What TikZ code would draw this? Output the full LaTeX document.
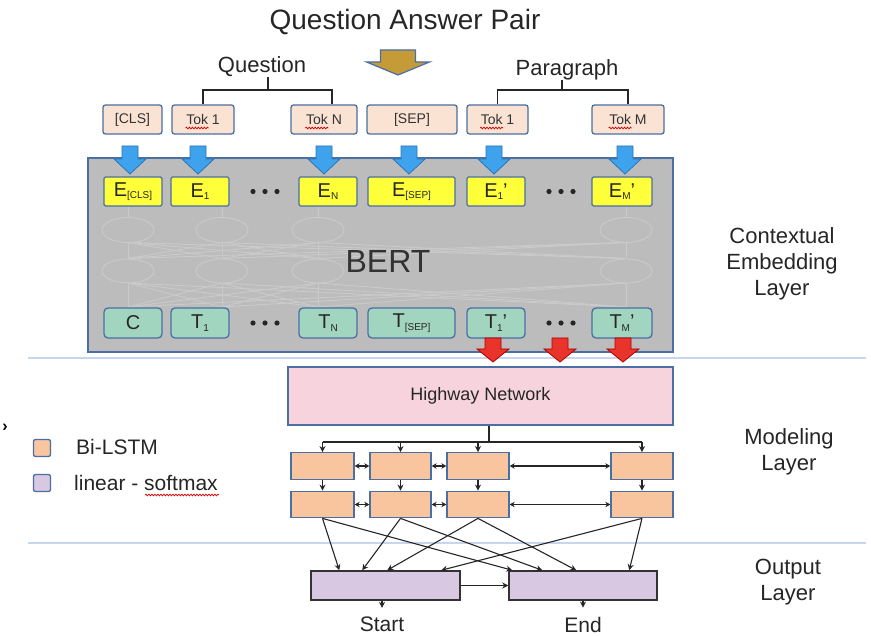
\documentclass[tikz,border=0pt]{standalone}
\usepackage{fontspec}
\setmainfont{Liberation Sans}
\usetikzlibrary{arrows.meta,decorations.pathmorphing,calc}

\definecolor{bordblue}{HTML}{4A6FA5}
\definecolor{tokfill}{HTML}{FBE3D4}
\definecolor{eyellow}{HTML}{FFFF3A}
\definecolor{tgreen}{HTML}{A2D5BF}
\definecolor{bertgray}{HTML}{BCBCBC}
\definecolor{faintline}{HTML}{CACACA}
\definecolor{hwpink}{HTML}{F7D3DD}
\definecolor{lstmfill}{HTML}{F8C59F}
\definecolor{outlav}{HTML}{D8C8E2}
\definecolor{goldfill}{HTML}{C49B36}
\definecolor{bluearr}{HTML}{3EA2EC}
\definecolor{bluearrdk}{HTML}{2E75B6}
\definecolor{redarr}{HTML}{E8342B}
\definecolor{sepblue}{HTML}{C7D6EF}
\definecolor{textgray}{HTML}{333333}

\newcommand\fs[1]{\fontsize{#1}{#1}\selectfont}
\newcommand\lowsub[1]{\raisebox{-2.5pt}{\fontsize{10}{10}\selectfont #1}}

\tikzset{
  pics/blockdown/.style n args={4}{code={
    \path[pic actions] (-#3,0) -- (#3,0) -- (#3,#1) -- (#4,#1) -- (0,#2)
      -- (-#4,#1) -- (-#3,#1) -- cycle;}},
  tokbox/.style={draw=bordblue, fill=tokfill, line width=1.3pt, rounded corners=2.5pt,
    minimum height=29pt, inner sep=0pt, text=textgray, font=\fs{14}},
  ebox/.style={draw=bordblue, fill=eyellow, line width=1.3pt, rounded corners=1.5pt,
    minimum height=29pt, inner sep=0pt, text=black!85, font=\fs{20}},
  tbox/.style={draw=bordblue, fill=tgreen, line width=1.3pt, rounded corners=4pt,
    minimum height=30pt, inner sep=0pt, text=black!85, font=\fs{20}},
  lstm/.style={draw=bordblue, fill=lstmfill, line width=1.3pt, minimum width=62pt,
    minimum height=26.5pt, inner sep=0pt},
  outbox/.style={draw=black!80, fill=outlav, line width=1.5pt, minimum height=29pt,
    inner sep=0pt},
  legsq/.style={draw=bordblue, line width=1.3pt, rounded corners=2pt,
    minimum width=17pt, minimum height=17pt, inner sep=0pt},
  conn/.style={line width=1.1pt, draw=black!85},
  arr/.style={conn, -{Stealth[length=6pt,width=6pt]}},
  darr/.style={conn, {Stealth[length=5pt,width=5.5pt]}-{Stealth[length=5pt,width=5.5pt]}},
  lbl/.style={font=\fs{22}, align=center, text=black!85, inner sep=0pt},
  sepline/.style={draw=sepblue, line width=1.5pt},
  squig/.style={draw=red!85!black, line width=0.7pt, decorate,
    decoration={snake, amplitude=0.9pt, segment length=3pt}},
  faint/.style={draw=faintline, line width=0.9pt},
}

\begin{document}
\begin{tikzpicture}[x=1pt,y=-1pt]
\useasboundingbox (0,0) rectangle (871,636);
\fill[white] (0,0) rectangle (871,636);

% ---------- input ----------
\node[font=\fs{28}, text=black!85, inner sep=0pt] (title) at (405,22) {Question Answer Pair};
\pic[fill=goldfill, draw=bordblue, line width=1.2pt] at (398,50) {blockdown={12}{25}{17.5}{31.5}};

\node[lbl] (qlbl) at (262,67) {Question};
\node[lbl] (plbl) at (567,70) {Paragraph};

\node[tokbox, minimum width=59pt] (tcls) at (132.5,119.5) {[CLS]};
\node[tokbox, minimum width=62pt] (tq1)  at (203,119.5)   {Tok 1};
\node[tokbox, minimum width=66pt] (tqn)  at (324,119.5)   {Tok N};
\node[tokbox, minimum width=90pt] (tsep) at (412,119.5)   {[SEP]};
\node[tokbox, minimum width=61pt] (tp1)  at (497.5,119.5) {Tok 1};
\node[tokbox, minimum width=72pt] (tpm)  at (628,119.5)   {Tok M};

% spell-check marks under "Tok"
\draw[squig] ($(tq1.center)+(-17.5,8.5)$) -- ++(23,0);
\draw[squig] ($(tqn.center)+(-18.7,8.5)$) -- ++(23,0);
\draw[squig] ($(tp1.center)+(-17.5,8.5)$) -- ++(23,0);
\draw[squig] ($(tpm.center)+(-19.4,8.5)$) -- ++(23,0);

% brackets grouping the tokens
\coordinate (qbar) at (268,90);
\coordinate (pbar) at (562,90);
\draw[conn, line width=1.3pt] (qbar |- qlbl.south) -- (qbar);
\draw[conn, line width=1.3pt] (tq1.north) |- (qbar) -| ([xshift=8pt]tqn.north);
\draw[conn, line width=1.3pt] (pbar |- plbl.south) -- (pbar);
\draw[conn, line width=1.3pt] (tp1.north) |- (pbar) -| (tpm.north);

% ---------- layer separators ----------
\draw[sepline] (28,358) -- (866,358);
\draw[sepline] (28,543) -- (866,543);

% ---------- BERT ----------
\node[draw=bordblue, fill=bertgray, line width=1.8pt, minimum width=585pt,
      minimum height=194pt, inner sep=0pt] (bert) at (380.5,255) {};

% faint transformer cells inside the encoder
\foreach \xa in {128,222,318,626}{
  \draw[faint] (\xa,206) -- (\xa,217.5);
  \foreach \xb in {128,222,318,626}{
    \draw[faint] (\xa,242.5) -- (\xb,258.5);
    \draw[faint] (\xa,283) -- (\xb,307);
  }
}
\foreach \xa in {128,222,318,626}{
  \draw[faint, fill=bertgray] (\xa,230) ellipse [x radius=26, y radius=12.5];
  \draw[faint, fill=bertgray] (\xa,271) ellipse [x radius=26, y radius=12];
}

\node[font=\fs{32}, text=black!80, inner sep=0pt] (bertlbl) at (388,261) {BERT};

\node[ebox, minimum width=58pt] (ecls) at (133,191.5)   {E\lowsub{[CLS]}};
\node[ebox, minimum width=58pt] (e1)   at (200,191.5)   {E\lowsub{1}};
\node[ebox, minimum width=58pt] (en)   at (328,191.5)   {E\lowsub{N}};
\node[ebox, minimum width=87pt] (esep) at (411.5,191.5) {E\lowsub{[SEP]}};
\node[ebox, minimum width=58pt] (ep1)  at (496,191.5)   {E\lowsub{1}'};
\node[ebox, minimum width=60pt] (epm)  at (622,191.5)   {E\lowsub{M}'};

\node[tbox, minimum width=58pt] (tc)    at (133,323)   {C};
\node[tbox, minimum width=58pt] (t1)    at (200,323)   {T\lowsub{1}};
\node[tbox, minimum width=58pt] (tn)    at (328,323)   {T\lowsub{N}};
\node[tbox, minimum width=87pt] (tsepo) at (411.5,323) {T\lowsub{[SEP]}};
\node[tbox, minimum width=58pt] (tp1o)  at (496,323)   {T\lowsub{1}'};
\node[tbox, minimum width=60pt] (tpmo)  at (622,323)   {T\lowsub{M}'};

\foreach \xd in {253,265,277,549,561,573}{
  \fill[black!85] (\xd,191.5) circle [radius=2.6];
  \fill[black!85] (\xd,323) circle [radius=2.6];
}

% token embeddings flowing in
\foreach \xc in {130,198,324,409,494,625}
  \pic[fill=bluearr, draw=bluearrdk, line width=0.8pt] at (\xc,146) {blockdown={13}{28}{8}{16}};

% paragraph outputs flowing out
\foreach \xc in {493,560,623}
  \pic[fill=redarr, draw=red!70!black, line width=0.8pt] at (\xc,338) {blockdown={11}{24}{8}{16}};

% ---------- modeling layer ----------
\node[draw=bordblue, fill=hwpink, line width=1.3pt, minimum width=385pt,
      minimum height=58pt, inner sep=0pt, font=\fs{18}, text=black!85] (hw) at (480.5,396) {Highway Network};

\node[lstm, minimum width=63pt] (l11) at (322.5,466) {};
\node[lstm, minimum width=61pt] (l12) at (400.5,466) {};
\node[lstm] (l13) at (478,466) {};
\node[lstm] (l14) at (642,466) {};
\node[lstm, minimum width=63pt] (l21) at (322.5,504.5) {};
\node[lstm, minimum width=61pt] (l22) at (400.5,504.5) {};
\node[lstm] (l23) at (478,504.5) {};
\node[lstm] (l24) at (642,504.5) {};

\coordinate (bus) at (489,442);
\draw[conn] (hw.south -| bus) -- (bus);
\draw[conn] (bus -| l11.north) -- (bus -| l14.north);
\foreach \n in {l11,l12,l13,l14}
  \draw[arr] (bus -| \n.north) -- (\n.north);

\draw[darr] (l11.east) -- (l12.west);
\draw[darr] (l12.east) -- (l13.west);
\draw[darr] (l13.east) -- (l14.west);
\draw[darr] (l21.east) -- (l22.west);
\draw[darr] (l22.east) -- (l23.west);
\draw[darr] (l23.east) -- (l24.west);
\draw[arr] (l11.south) -- (l21.north);
\draw[arr] (l12.south) -- (l22.north);
\draw[arr] (l13.south) -- (l23.north);
\draw[arr] (l14.south) -- (l24.north);

% ---------- output layer ----------
\node[outbox, minimum width=149pt] (outL) at (385.5,585.5) {};
\node[outbox, minimum width=148pt] (outR) at (583,585.5) {};

\draw[arr] (l21.south) -- ([xshift=29pt]outL.north west);
\draw[arr] (l22.south) -- ([xshift=52pt]outL.north west);
\draw[arr] (l23.south) -- ([xshift=77pt]outL.north west);
\draw[arr] (l24.south) -- ([xshift=131pt]outL.north west);
\draw[arr] (l21.south) -- ([xshift=4pt]outR.north west);
\draw[arr] (l22.south) -- ([xshift=34pt]outR.north west);
\draw[arr] (l23.south) -- ([xshift=68pt]outR.north west);
\draw[arr] (l24.south) -- ([xshift=121pt]outR.north west);

\draw[arr] (outL.east) -- (outR.west);

\node[font=\fs{21}, text=black!85, inner sep=0pt] (startlbl) at (382,624.5) {Start};
\node[font=\fs{21}, text=black!85, inner sep=0pt] (endlbl) at (583,624.5) {End};
\draw[arr, shorten >=9pt] (outL.south -| startlbl.north) -- (startlbl.north);
\draw[arr, shorten >=9pt] (outR.south) -- (endlbl.north);

% ---------- legend ----------
\node[font=\fs{16}, inner sep=0pt] (chev) at (5,428) {\textbf{›}};
\node[legsq, fill=lstmfill] (lg1) at (42,448) {};
\node[legsq, fill=outlav] (lg2) at (42,483) {};
\node[font=\fs{21}, text=black!85, inner sep=0pt, anchor=west] (lgt1) at (76,447) {Bi-LSTM};
\node[font=\fs{21}, text=black!85, inner sep=0pt, anchor=west] (lgt2) at (74,483) {linear - softmax};
\draw[squig] (145,495) -- (219,495);

% ---------- layer names ----------
\node[lbl, font=\fontsize{22}{26}\selectfont] (lay1) at (782,264) {Contextual\\Embedding\\Layer};
\node[lbl, font=\fontsize{22}{26}\selectfont] (lay2) at (789,452) {Modeling\\Layer};
\node[lbl, font=\fontsize{22}{26}\selectfont] (lay3) at (788,582) {Output\\Layer};
\end{tikzpicture}
\end{document}
